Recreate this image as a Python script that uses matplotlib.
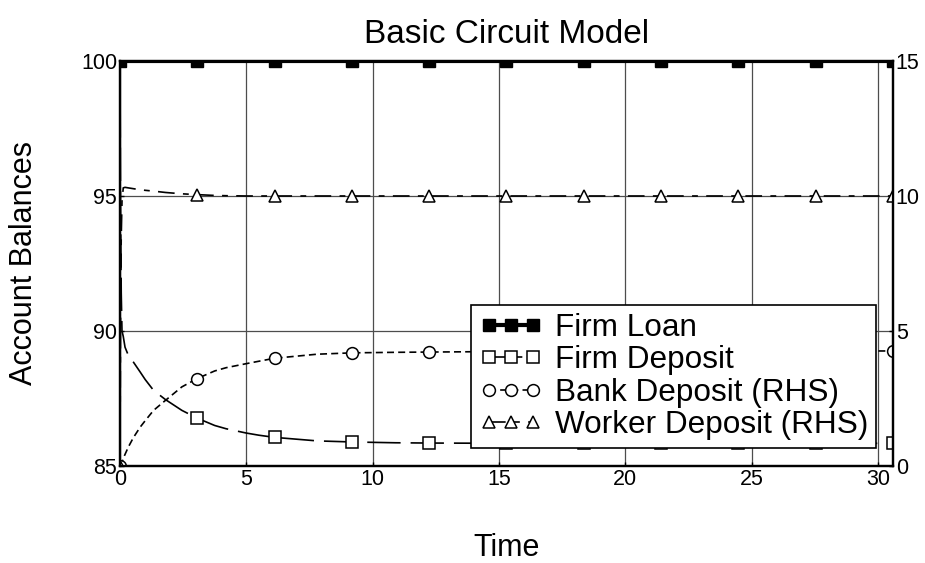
import numpy as np
import matplotlib
matplotlib.use("Agg")
import matplotlib.pyplot as plt

plt.rcParams['font.family'] = ['Liberation Sans', 'DejaVu Sans']

# Time points (denser near 0 where the fast transient happens)
time = [0, 0.02, 0.05, 0.08, 0.13, 0.2, 0.33, 0.53, 0.8, 1.0, 1.33, 1.8, 2.45,
        3.06, 3.75, 4.2, 5.0, 5.5, 6.12, 7.8, 9.18, 10.9, 12.24, 15.3, 18.36,
        21.42, 24.48, 27.54, 30.6]
marker_times = [0, 3.06, 6.12, 9.18, 12.24, 15.3, 18.36, 21.42, 24.48, 27.54, 30.6]

# Left axis series
firm_loan = [100.0] * len(time)
firm_deposit = [100.0, 95.0, 91.4, 90.0, 89.8, 89.4, 89.1, 88.85, 88.48, 88.2,
                87.8, 87.46, 87.06, 86.77, 86.5, 86.38, 86.22, 86.14, 86.06,
                85.93, 85.89, 85.86, 85.85, 85.84, 85.84, 85.84, 85.84, 85.84, 85.84]

# Right axis series
bank_deposit = [0.0, 0.02, 0.06, 0.12, 0.28, 0.43, 0.70, 1.05, 1.44, 1.68,
                2.06, 2.43, 2.93, 3.24, 3.52, 3.64, 3.79, 3.88, 3.99, 4.14,
                4.19, 4.21, 4.22, 4.24, 4.25, 4.25, 4.26, 4.26, 4.26]
worker_deposit = [0.0, 5.0, 8.5, 9.8, 10.3, 10.32, 10.3, 10.27, 10.23, 10.21,
                  10.18, 10.13, 10.08, 10.05, 10.02, 10.01, 10.0, 10.0, 10.0,
                  10.0, 10.0, 10.0, 10.0, 10.0, 10.0, 10.0, 10.0, 10.0, 10.0]

mark_idx = [i for i, t in enumerate(time) if t in marker_times]

fig = plt.figure(figsize=(9.25, 5.63), dpi=100)
ax = fig.add_axes([0.1297, 0.1723, 0.9654 - 0.1297, 0.8917 - 0.1723])
ax2 = ax.twinx()

h1, = ax.plot(time, firm_loan, color='black', lw=3, marker='s', ms=8.5,
              markevery=mark_idx, mfc='black', label='Firm Loan', zorder=5)
h2, = ax.plot(time, firm_deposit, color='black', lw=1.2, dashes=(20, 6),
              marker='s', ms=8.5, mfc='white', mec='black', mew=1.1,
              markevery=mark_idx, label='Firm Deposit')
h3, = ax2.plot(time, bank_deposit, color='black', lw=1.2, dashes=(4.2, 2.5),
               marker='o', ms=8.5, mfc='white', mec='black', mew=1.1,
               markevery=mark_idx, label='Bank Deposit (RHS)')
h4, = ax2.plot(time, worker_deposit, color='black', lw=1.2, dashes=(10, 5, 3.5, 5),
               marker='^', ms=9, mfc='white', mec='black', mew=1.1,
               markevery=mark_idx, label='Worker Deposit (RHS)')

ax.set_xlim(0, 30.6)
ax.set_ylim(85, 100)
ax2.set_ylim(0, 15)
ax.set_xticks([0, 5, 10, 15, 20, 25, 30])
ax.set_yticks([85, 90, 95, 100])
ax2.set_yticks([0, 5, 10, 15])

ax.grid(True, color='0.3', lw=0.9)
ax.set_axisbelow(True)

for a in (ax, ax2):
    a.tick_params(direction='in', length=3, labelsize=15.5, pad=2, width=1)
    for s in a.spines.values():
        s.set_linewidth(1.6)

ax.set_title('Basic Circuit Model', fontsize=24, pad=13)
ax.set_xlabel('Time', fontsize=22, labelpad=31)
ax.set_ylabel('Account Balances', fontsize=22, labelpad=30)

leg = ax2.legend(handles=[h1, h2, h3, h4], loc='lower right',
                 bbox_to_anchor=(0.978, 0.044), borderaxespad=0,
                 fontsize=22.7, numpoints=3, handlelength=2.0,
                 handletextpad=0.4, labelspacing=0.08, borderpad=0.25,
                 fancybox=False, framealpha=1, edgecolor='black')
leg.get_frame().set_linewidth(1.2)

fig.savefig('out.png', dpi=100)
